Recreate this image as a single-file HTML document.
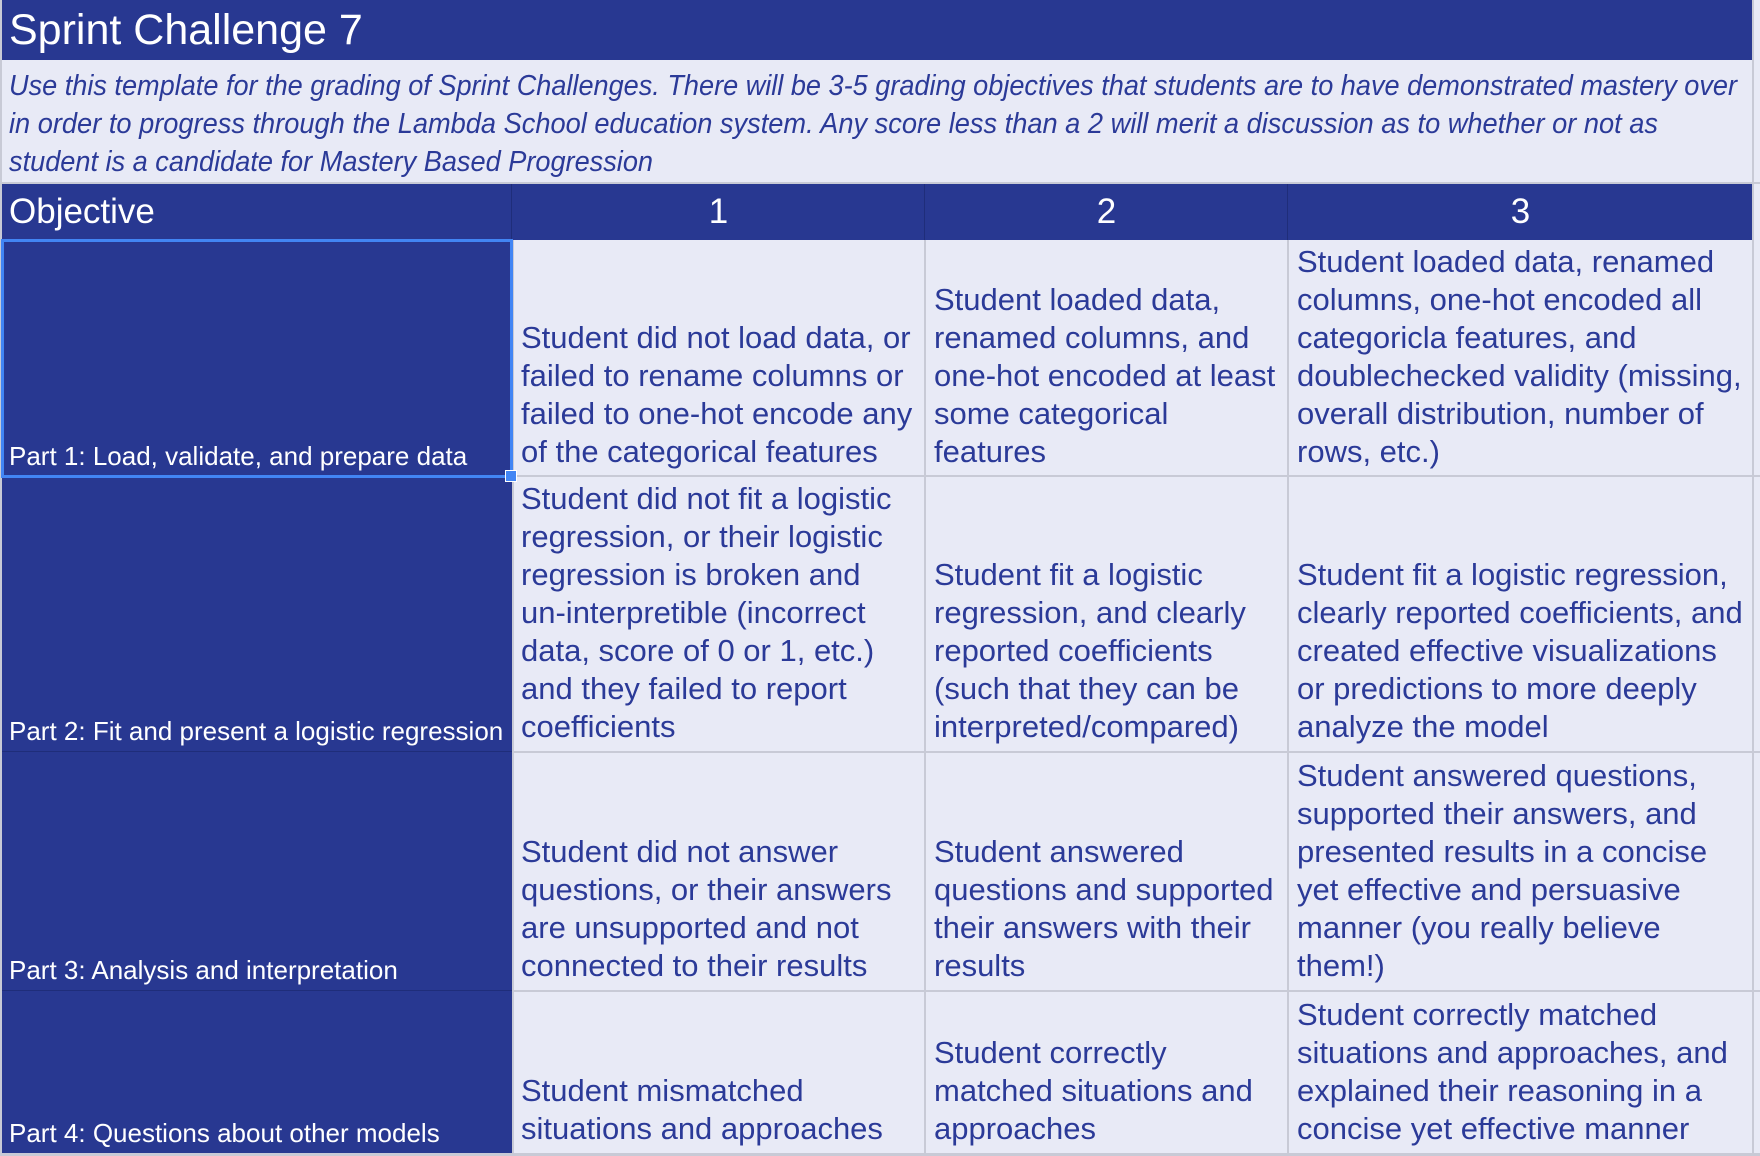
<!DOCTYPE html>
<html><head><meta charset="utf-8"><style>
*{margin:0;padding:0;box-sizing:border-box}
body{width:1760px;height:1156px;background:#e8eaf6;position:relative;overflow:hidden;font-family:"Liberation Sans",sans-serif}
.a{position:absolute}
.dark{background:#283891}
.c{position:absolute;display:flex;flex-direction:column;justify-content:flex-end;padding:0 0 6px 9px;color:#2b3a98;font-size:31px;line-height:38px;white-space:nowrap;background:#e8eaf6}
.o{position:absolute;display:flex;flex-direction:column;justify-content:flex-end;padding:0 0 6px 9px;color:#fff;font-size:26px;line-height:30px;white-space:nowrap;background:#283891}
.h{position:absolute;top:184px;height:56px;color:#fff;font-size:35px;line-height:56px;text-align:center}
</style></head><body>
<div class="a dark" style="left:0;top:0;width:1753px;height:60px"></div>
<div class="a" style="left:9px;top:4px;color:#fff;font-size:43px;line-height:52px">Sprint Challenge 7</div>
<svg class="a" style="left:0;top:60px" width="1760" height="124">
<g fill="#2b3a98" font-family="Liberation Sans, sans-serif" font-style="italic" font-size="29">
<text x="9" y="35" textLength="1728" lengthAdjust="spacingAndGlyphs">Use this template for the grading of Sprint Challenges. There will be 3-5 grading objectives that students are to have demonstrated mastery over</text>
<text x="9" y="73" textLength="1649" lengthAdjust="spacingAndGlyphs">in order to progress through the Lambda School education system. Any score less than a 2 will merit a discussion as to whether or not as</text>
<text x="9" y="111" textLength="644" lengthAdjust="spacingAndGlyphs">student is a candidate for Mastery Based Progression</text>
</g></svg>
<div class="a" style="left:0;top:182px;width:1760px;height:2px;background:#c8cad6"></div>
<div class="a dark" style="left:0;top:184px;width:1753px;height:56px"></div>
<div class="h" style="left:9px;text-align:left">Objective</div>
<div class="h" style="left:512px;width:413px">1</div>
<div class="h" style="left:925px;width:363px">2</div>
<div class="h" style="left:1288px;width:465px">3</div>
<div class="a" style="left:511px;top:184px;width:1px;height:56px;background:#1f2d7a"></div>
<div class="a" style="left:924px;top:184px;width:1px;height:56px;background:#1f2d7a"></div>
<div class="a" style="left:1287px;top:184px;width:1px;height:56px;background:#1f2d7a"></div>

<div class="o" style="left:0;top:240px;width:512px;height:237px">Part 1: Load, validate, and prepare data</div>
<div class="c" style="left:512px;top:240px;width:413px;height:237px">Student did not load data, or<br>failed to rename columns or<br>failed to one-hot encode any<br>of the categorical features</div>
<div class="c" style="left:925px;top:240px;width:363px;height:237px">Student loaded data,<br>renamed columns, and<br>one-hot encoded at least<br>some categorical<br>features</div>
<div class="c" style="left:1288px;top:240px;width:465px;height:237px">Student loaded data, renamed<br>columns, one-hot encoded all<br>categoricla features, and<br>doublechecked validity (missing,<br>overall distribution, number of<br>rows, etc.)</div>

<div class="o" style="left:0;top:477px;width:512px;height:275px">Part 2: Fit and present a logistic regression</div>
<div class="c" style="left:512px;top:477px;width:413px;height:275px">Student did not fit a logistic<br>regression, or their logistic<br>regression is broken and<br>un-interpretible (incorrect<br>data, score of 0 or 1, etc.)<br>and they failed to report<br>coefficients</div>
<div class="c" style="left:925px;top:477px;width:363px;height:275px">Student fit a logistic<br>regression, and clearly<br>reported coefficients<br>(such that they can be<br>interpreted/compared)</div>
<div class="c" style="left:1288px;top:477px;width:465px;height:275px">Student fit a logistic regression,<br>clearly reported coefficients, and<br>created effective visualizations<br>or predictions to more deeply<br>analyze the model</div>

<div class="o" style="left:0;top:752px;width:512px;height:239px">Part 3: Analysis and interpretation</div>
<div class="c" style="left:512px;top:752px;width:413px;height:239px">Student did not answer<br>questions, or their answers<br>are unsupported and not<br>connected to their results</div>
<div class="c" style="left:925px;top:752px;width:363px;height:239px">Student answered<br>questions and supported<br>their answers with their<br>results</div>
<div class="c" style="left:1288px;top:752px;width:465px;height:239px">Student answered questions,<br>supported their answers, and<br>presented results in a concise<br>yet effective and persuasive<br>manner (you really believe<br>them!)</div>

<div class="o" style="left:0;top:991px;width:512px;height:163px">Part 4: Questions about other models</div>
<div class="c" style="left:512px;top:991px;width:413px;height:163px">Student mismatched<br>situations and approaches</div>
<div class="c" style="left:925px;top:991px;width:363px;height:163px">Student correctly<br>matched situations and<br>approaches</div>
<div class="c" style="left:1288px;top:991px;width:465px;height:163px">Student correctly matched<br>situations and approaches, and<br>explained their reasoning in a<br>concise yet effective manner</div>

<div class="a" style="left:512px;top:475px;width:1248px;height:2px;background:#c8cad6"></div>
<div class="a" style="left:512px;top:751px;width:1248px;height:2px;background:#c8cad6"></div>
<div class="a" style="left:512px;top:990px;width:1248px;height:2px;background:#c8cad6"></div>
<div class="a" style="left:0;top:1153px;width:1760px;height:3px;background:#c8cad6"></div>
<div class="a" style="left:0;top:751px;width:512px;height:1px;background:#1f2d7a"></div>
<div class="a" style="left:0;top:990px;width:512px;height:1px;background:#1f2d7a"></div>
<div class="a" style="left:512px;top:240px;width:2px;height:914px;background:#c8cad6"></div>
<div class="a" style="left:924px;top:240px;width:2px;height:914px;background:#c8cad6"></div>
<div class="a" style="left:1287px;top:240px;width:2px;height:914px;background:#c8cad6"></div>
<div class="a" style="left:1752px;top:0;width:2px;height:1156px;background:#c8cad6"></div>
<div class="a" style="left:0;top:0;width:2px;height:1156px;background:#c8cad6"></div>

<div class="a" style="left:1px;top:239px;width:512px;height:239px;border:3px solid #4285f4"></div>
<div class="a" style="left:505px;top:470px;width:12px;height:12px;background:#4285f4;border:1px solid #fff"></div>
</body></html>
